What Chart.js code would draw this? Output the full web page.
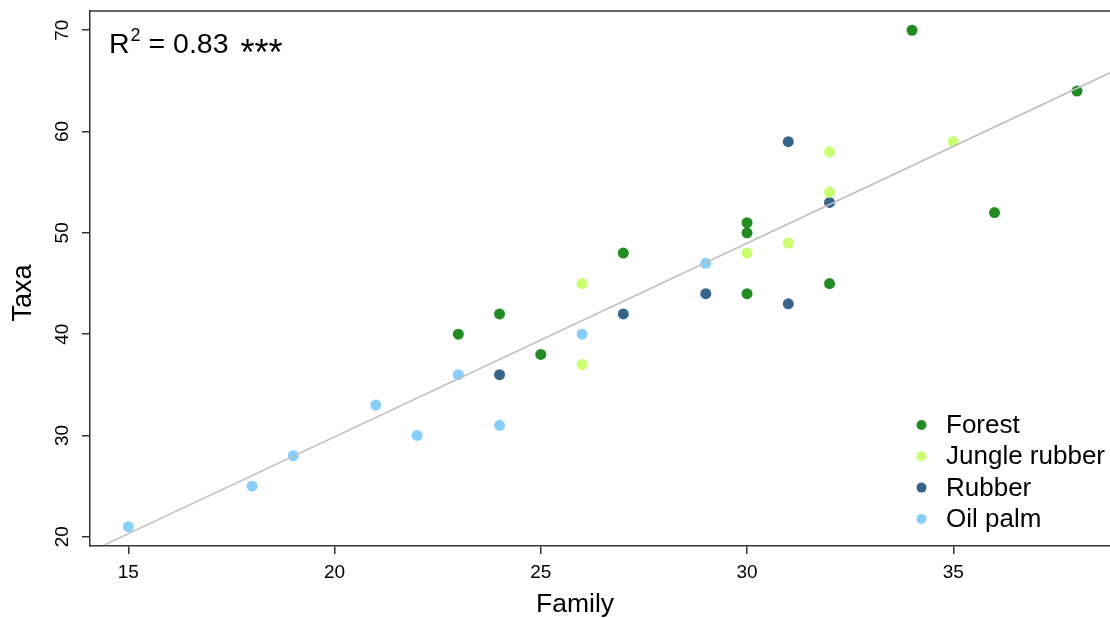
<!DOCTYPE html>
<html>
<head>
<meta charset="utf-8">
<script src="https://cdn.jsdelivr.net/npm/chart.js@4/dist/chart.umd.min.js"></script>
<style>
  html, body { margin: 0; padding: 0; background: #fff; }
</style>
</head>
<body>
<canvas id="chart" width="1110" height="618"></canvas>
<script>
// groups and colours
const groups = ["Forest", "Jungle rubber", "Rubber", "Oil palm"];
const colors = ["#228B22", "#CAFF70", "#36648B", "#87CEFA"];

// family (x) and taxa (y) per land use
const forestFamily = [34, 38, 36, 30, 30, 27, 32, 30, 24, 23, 25];
const forestTaxa   = [70, 64, 52, 51, 50, 48, 45, 44, 42, 40, 38];
const jungleFamily = [35, 32, 32, 31, 30, 26, 26];
const jungleTaxa   = [59, 58, 54, 49, 48, 45, 37];
const rubberFamily = [31, 32, 29, 31, 27, 24];
const rubberTaxa   = [59, 53, 44, 43, 42, 36];
const palmFamily   = [29, 26, 23, 21, 22, 24, 19, 18, 15];
const palmTaxa     = [47, 40, 36, 33, 30, 31, 28, 25, 21];

// fitted line end points
const fitFamily = [14.42, 38.8];
const fitTaxa   = [19.2, 65.8];

const xTicks = [15, 20, 25, 30, 35];
const yTicks = [20, 30, 40, 50, 60, 70];
const r2Text = "0.83";

const FONT = "'Liberation Sans', Arial, Helvetica, sans-serif";

function pts(xs, ys) {
  return xs.map((x, i) => ({ x: x, y: ys[i] }));
}

const seriesX = [forestFamily, jungleFamily, rubberFamily, palmFamily];
const seriesY = [forestTaxa, jungleTaxa, rubberTaxa, palmTaxa];

const datasets = groups.map((g, i) => ({
  type: "scatter",
  label: g,
  data: pts(seriesX[i], seriesY[i]),
  backgroundColor: colors[i],
  borderWidth: 0,
  pointRadius: 5.5,
  order: 1
}));

datasets.push({
  type: "line",
  label: "fit",
  data: pts(fitFamily, fitTaxa),
  borderColor: "#BEBEBE",
  borderWidth: 1.5,
  pointRadius: 0,
  fill: false,
  order: 0
});

const extras = {
  id: "extras",
  afterDraw(chart) {
    const ctx = chart.ctx;
    const area = chart.chartArea;
    const ys = chart.scales.y;
    ctx.save();

    // top frame line
    ctx.strokeStyle = "#333";
    ctx.lineWidth = 1.5;
    ctx.beginPath();
    ctx.moveTo(area.left, area.top);
    ctx.lineTo(area.right, area.top);
    ctx.stroke();

    ctx.fillStyle = "#000";

    // rotated y tick labels
    ctx.font = "19px " + FONT;
    ctx.textAlign = "center";
    ctx.textBaseline = "middle";
    yTicks.forEach(v => {
      ctx.save();
      ctx.translate(63, ys.getPixelForValue(v));
      ctx.rotate(-Math.PI / 2);
      ctx.fillText(String(v), 0, 0);
      ctx.restore();
    });

    // axis titles
    ctx.font = "27px " + FONT;
    ctx.save();
    ctx.translate(24, 293);
    ctx.rotate(-Math.PI / 2);
    ctx.fillText("Taxa", 0, 0);
    ctx.restore();

    ctx.textBaseline = "alphabetic";
    ctx.font = "26.5px " + FONT;
    ctx.fillText("Family", 575, 612);

    // R squared label
    ctx.textAlign = "left";
    ctx.font = "28.5px " + FONT;
    ctx.fillText("R", 109, 53);
    let x = 109 + ctx.measureText("R").width + 1;
    ctx.font = "18px " + FONT;
    ctx.fillText("2", x, 41);
    x += ctx.measureText("2").width;
    ctx.font = "28.5px " + FONT;
    const rest = " = " + r2Text;
    ctx.fillText(rest, x, 53);
    x += ctx.measureText(rest).width + 12;
    ctx.font = "36px " + FONT;
    ctx.fillText("***", x, 65);

    // legend
    ctx.font = "26px " + FONT;
    ctx.textBaseline = "middle";
    groups.forEach((g, i) => {
      const yy = 425 + i * 31.3;
      ctx.fillStyle = colors[i];
      ctx.beginPath();
      ctx.arc(921.5, yy, 5, 0, Math.PI * 2);
      ctx.fill();
      ctx.fillStyle = "#000";
      ctx.fillText(g, 946, yy + 1);
    });

    ctx.restore();
  }
};

const axisGrid = {
  display: true,
  drawOnChartArea: false,
  drawTicks: true,
  tickLength: 8,
  color: "#333",
  lineWidth: 1.5
};

new Chart(document.getElementById("chart").getContext("2d"), {
  data: { datasets: datasets },
  options: {
    responsive: false,
    devicePixelRatio: 1,
    animation: false,
    layout: { autoPadding: false, padding: { top: 11, right: 0, bottom: 0, left: 0 } },
    plugins: { legend: { display: false }, tooltip: { enabled: false } },
    scales: {
      x: {
        type: "linear",
        position: "bottom",
        min: 14.07,
        max: 38.8,
        afterBuildTicks: s => { s.ticks = xTicks.map(v => ({ value: v })); },
        afterFit: s => { s.height = 72; },
        grid: axisGrid,
        border: { display: true, color: "#333", width: 1.5 },
        ticks: {
          font: { family: FONT, size: 19 },
          color: "#000",
          padding: 7,
          maxRotation: 0
        }
      },
      y: {
        type: "linear",
        position: "left",
        min: 19.09,
        max: 71.9,
        afterBuildTicks: s => { s.ticks = yTicks.map(v => ({ value: v })); },
        afterFit: s => { s.width = 90; },
        grid: axisGrid,
        border: { display: true, color: "#333", width: 1.5 },
        ticks: { display: false }
      }
    }
  },
  plugins: [extras]
});
</script>
</body>
</html>
